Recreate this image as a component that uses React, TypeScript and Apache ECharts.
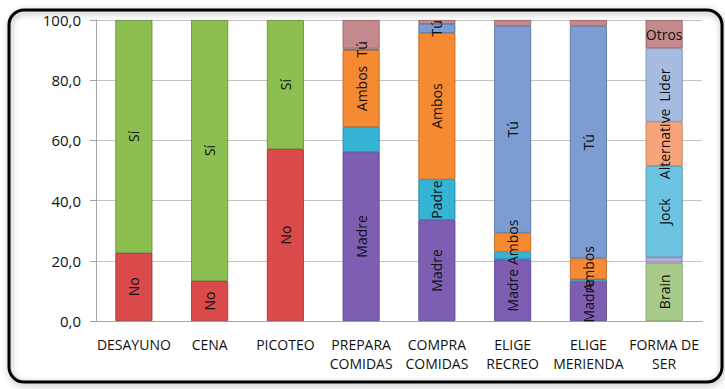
import React, { useEffect, useRef } from "react";
import * as echarts from "echarts";

// Categories along the x axis
const categories = [
  "DESAYUNO",
  "CENA",
  "PICOTEO",
  "PREPARA\nCOMIDAS",
  "COMPRA\nCOMIDAS",
  "ELIGE\nRECREO",
  "ELIGE\nMERIENDA",
  "FORMA DE\nSER",
];

// Percentages per answer (null where the answer does not apply)
const no = [22.7, 13.3, 57.1, null, null, null, null, null];
const si = [77.3, 86.7, 42.9, null, null, null, null, null];
const madre = [null, null, null, 56.2, 33.6, 20.5, 13.2, null];
const padre = [null, null, null, 8.3, 13.5, 2.5, 0.7, null];
const ambos = [null, null, null, 25.5, 48.6, 6.3, 6.9, null];
const tu = [null, null, null, 0.5, 3.0, 68.7, 77.2, null];
const brain = [null, null, null, null, null, null, null, 19.4];
const nerd = [null, null, null, null, null, null, null, 1.8];
const jock = [null, null, null, null, null, null, null, 30.3];
const alternative = [null, null, null, null, null, null, null, 14.7];
const lider = [null, null, null, null, null, null, null, 24.4];
const otros = [null, null, null, 9.5, 1.3, 2.0, 2.0, 9.4];

// Y axis ticks
const yTicks = [0, 20, 40, 60, 80, 100];

type SeriesDef = {
  name: string;
  values: (number | null)[];
  color: string;
  border: string;
  labelAt: number[]; // category indexes whose segment carries a label
  flatLabelAt?: number[]; // labels drawn horizontally
};

const seriesDefs: SeriesDef[] = [
  { name: "No", values: no, color: "#DB4A4A", border: "#9E2F2F", labelAt: [0, 1, 2] },
  { name: "Sí", values: si, color: "#8CBE50", border: "#5F8A2E", labelAt: [0, 1, 2] },
  { name: "Madre", values: madre, color: "#7E5EB2", border: "#573E85", labelAt: [3, 4, 5, 6] },
  { name: "Padre", values: padre, color: "#36B4D6", border: "#1F7F9A", labelAt: [4] },
  { name: "Ambos", values: ambos, color: "#F68A32", border: "#B9601A", labelAt: [3, 4, 5, 6] },
  { name: "Tú", values: tu, color: "#7C9CD2", border: "#4F6E9E", labelAt: [3, 4, 5, 6] },
  { name: "Brain", values: brain, color: "#A9CC8A", border: "#7A9A5E", labelAt: [7] },
  { name: "Nerd", values: nerd, color: "#B9A8D8", border: "#8A78AA", labelAt: [] },
  { name: "Jock", values: jock, color: "#6DC4E2", border: "#4390AA", labelAt: [7] },
  { name: "Alternative", values: alternative, color: "#F7A47A", border: "#C07550", labelAt: [7] },
  { name: "Lider", values: lider, color: "#A6BCE2", border: "#7488AE", labelAt: [7] },
  { name: "Otros", values: otros, color: "#C58A8E", border: "#935C60", labelAt: [7], flatLabelAt: [7] },
];

const fontFamily = "'Open Sans', 'Noto Sans', sans-serif";

export default function App() {
  const ref = useRef<HTMLDivElement>(null);

  useEffect(() => {
    if (!ref.current) return;
    const chart = echarts.init(ref.current, null, { renderer: "svg" });

    const series = seriesDefs.map((s) => ({
      name: s.name,
      type: "bar",
      stack: "total",
      barWidth: 37,
      itemStyle: { color: s.color, borderColor: s.border, borderWidth: 0.8 },
      label: {
        show: false,
        position: "inside",
        rotate: 90,
        color: "#111",
        fontSize: 14,
        fontFamily,
        formatter: () => s.name,
      },
      data: s.values.map((v, i) => {
        if (v === null) return null;
        const show = s.labelAt.includes(i);
        const flat = (s.flatLabelAt || []).includes(i);
        return {
          value: v,
          label: { show, rotate: flat ? 0 : 90 },
        };
      }),
    }));

    chart.setOption({
      animation: false,
      backgroundColor: "#fff",
      grid: { left: 96, right: 23, top: 20, bottom: 68 },
      graphic: [
        {
          type: "rect",
          shape: { x: 9, y: 10, width: 713, height: 372, r: 15 },
          style: {
            fill: "none",
            stroke: "#000",
            lineWidth: 3,
            shadowColor: "rgba(0,0,0,0.35)",
            shadowBlur: 6,
            shadowOffsetX: 1,
            shadowOffsetY: 2,
          },
          silent: true,
          z: 0,
        },
      ],
      xAxis: {
        type: "category",
        data: categories,
        axisTick: { show: false },
        axisLine: { lineStyle: { color: "#A6A6A6", width: 1 } },
        axisLabel: {
          color: "#111",
          fontSize: 14,
          fontFamily,
          lineHeight: 19,
          margin: 14,
          interval: 0,
        },
      },
      yAxis: {
        type: "value",
        min: yTicks[0],
        max: yTicks[yTicks.length - 1],
        interval: 20,
        axisLine: { show: true, lineStyle: { color: "#A6A6A6" } },
        axisTick: { show: true, length: 6, lineStyle: { color: "#A6A6A6" } },
        splitLine: { lineStyle: { color: "#C4C4C4" } },
        axisLabel: {
          color: "#111",
          fontSize: 15,
          fontFamily,
          margin: 15,
          formatter: (v: number) => v.toFixed(1).replace(".", ","),
        },
      },
      series,
    });

    return () => chart.dispose();
  }, []);

  return (
    <div
      ref={ref}
      style={{ position: "fixed", left: 0, top: 0, width: 725, height: 389, background: "#fff" }}
    />
  );
}
